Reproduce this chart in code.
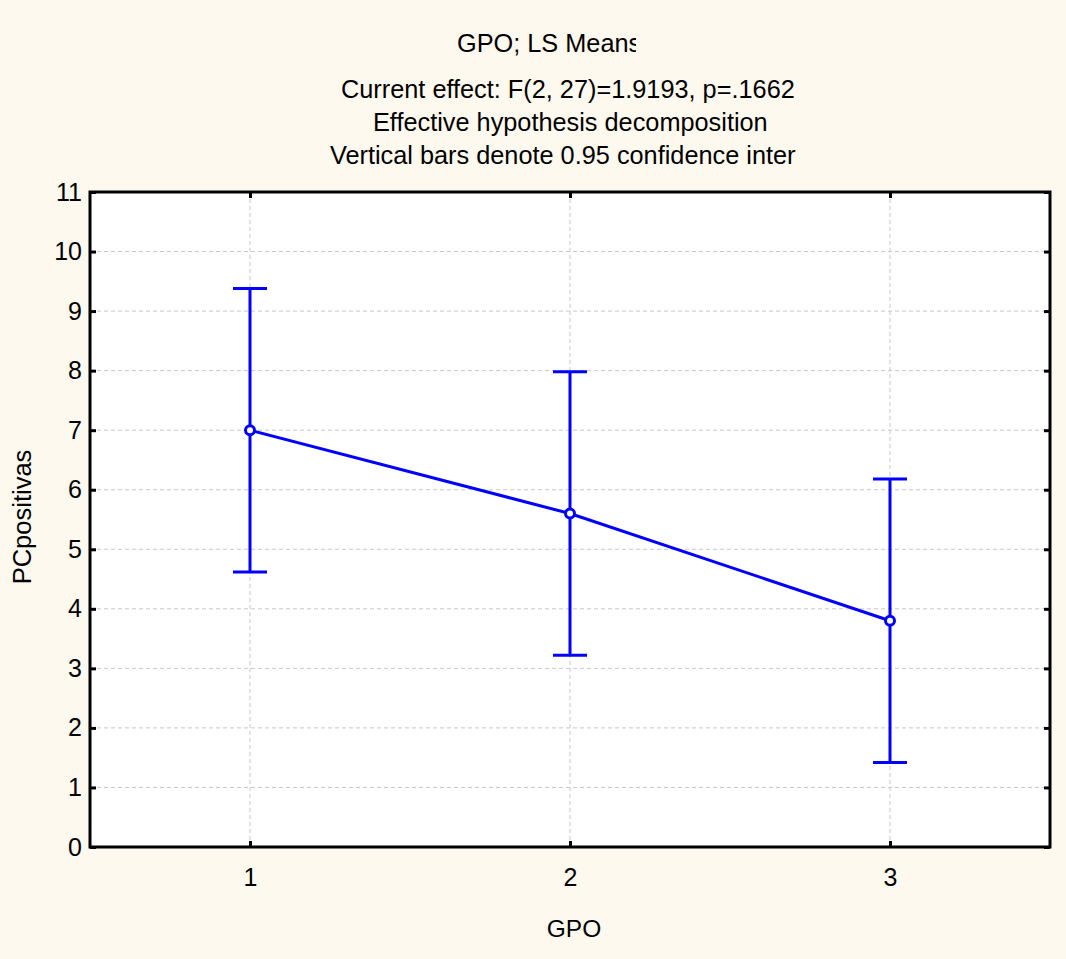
<!DOCTYPE html>
<html>
<head>
<meta charset="utf-8">
<script src="https://cdn.jsdelivr.net/npm/d3@7"></script>
<style>
  body { margin: 0; background: #fef9ee; }
  text { font-family: "Liberation Sans", Arial, sans-serif; fill: #000; }
</style>
</head>
<body>
<div id="chart"></div>
<script>
// data
var groups = [1, 2, 3];
var means = [7.0, 5.6, 3.8];
var ciLow = [4.62, 3.22, 1.42];
var ciHigh = [9.38, 7.98, 6.18];
var yTicks = [0, 1, 2, 3, 4, 5, 6, 7, 8, 9, 10, 11];
var titleLines = [
  "GPO; LS Means",
  "Current effect: F(2, 27)=1.9193, p=.1662",
  "Effective hypothesis decomposition",
  "Vertical bars denote 0.95 confidence intervals"
];

var width = 1066,
  height = 959;
var margin = { top: 192, left: 90, right: 16, bottom: 112 };

var svg = d3
  .select("#chart")
  .append("svg")
  .attr("width", width)
  .attr("height", height);

svg
  .append("rect")
  .attr("width", width)
  .attr("height", height)
  .attr("fill", "#fef9ee");

var x = d3
  .scaleLinear()
  .domain([0.5, 3.5])
  .range([margin.left, width - margin.right]);
var y = d3
  .scaleLinear()
  .domain([0, 11])
  .range([height - margin.bottom, margin.top]);

// titles, clipped like the original text boxes
var defs = svg.append("defs");
var titleX = [457, 341, 373, 330];
var titleY = [52, 98, 131, 164];
var clipRight = [636, 800, 800, 796];
titleLines.forEach(function(t, i) {
  defs
    .append("clipPath")
    .attr("id", "clip" + i)
    .append("rect")
    .attr("x", 0)
    .attr("y", 0)
    .attr("width", clipRight[i])
    .attr("height", height);
});
svg
  .selectAll(".title")
  .data(titleLines)
  .enter()
  .append("text")
  .attr("class", "title")
  .attr("x", function(d, i) {
    return titleX[i];
  })
  .attr("y", function(d, i) {
    return titleY[i];
  })
  .attr("clip-path", function(d, i) {
    return "url(#clip" + i + ")";
  })
  .style("font-size", "25.3px")
  .text(function(d) {
    return d;
  });

// plot area
svg
  .append("rect")
  .attr("x", x.range()[0])
  .attr("y", y.range()[1])
  .attr("width", x.range()[1] - x.range()[0])
  .attr("height", y.range()[0] - y.range()[1])
  .attr("fill", "#fff");

// grid
svg
  .append("g")
  .selectAll("line")
  .data(yTicks.slice(1, -1))
  .enter()
  .append("line")
  .attr("x1", x.range()[0])
  .attr("x2", x.range()[1])
  .attr("y1", function(d) {
    return y(d);
  })
  .attr("y2", function(d) {
    return y(d);
  })
  .attr("stroke", "#c8c8c8")
  .attr("stroke-dasharray", "4,3");

svg
  .append("g")
  .selectAll("line")
  .data(groups)
  .enter()
  .append("line")
  .attr("x1", function(d) {
    return x(d);
  })
  .attr("x2", function(d) {
    return x(d);
  })
  .attr("y1", y.range()[0])
  .attr("y2", y.range()[1])
  .attr("stroke", "#c8c8c8")
  .attr("stroke-dasharray", "4,3");

// axes with inward ticks
var axisStyle = function(g) {
  g.select(".domain").remove();
  g.selectAll(".tick line").attr("stroke", "#000").attr("stroke-width", 3);
  g.selectAll(".tick text")
    .style("font-size", "25px")
    .style("font-family", '"Liberation Sans", Arial, sans-serif');
};

svg
  .append("g")
  .attr("transform", "translate(" + x.range()[0] + ",0)")
  .call(
    d3
      .axisLeft(y)
      .tickValues(yTicks)
      .tickSize(-6)
      .tickPadding(8)
      .tickFormat(d3.format("d"))
  )
  .call(axisStyle);

svg
  .append("g")
  .attr("transform", "translate(" + x.range()[1] + ",0)")
  .call(
    d3
      .axisRight(y)
      .tickValues(yTicks)
      .tickSize(-6)
      .tickFormat("")
  )
  .call(axisStyle);

svg
  .append("g")
  .attr("transform", "translate(0," + y.range()[0] + ")")
  .call(
    d3
      .axisBottom(x)
      .tickValues(groups)
      .tickSize(-6)
      .tickPadding(21)
      .tickFormat(d3.format("d"))
  )
  .call(axisStyle);

svg
  .append("g")
  .attr("transform", "translate(0," + y.range()[1] + ")")
  .call(
    d3
      .axisTop(x)
      .tickValues(groups)
      .tickSize(-6)
      .tickFormat("")
  )
  .call(axisStyle);

// frame
svg
  .append("rect")
  .attr("x", x.range()[0])
  .attr("y", y.range()[1])
  .attr("width", x.range()[1] - x.range()[0])
  .attr("height", y.range()[0] - y.range()[1])
  .attr("fill", "none")
  .attr("stroke", "#000")
  .attr("stroke-width", 3);

// axis titles
svg
  .append("text")
  .attr("x", 574)
  .attr("y", 937)
  .attr("text-anchor", "middle")
  .style("font-size", "24.5px")
  .text("GPO");

svg
  .append("text")
  .attr("transform", "translate(31,517) rotate(-90)")
  .attr("text-anchor", "middle")
  .style("font-size", "25.5px")
  .text("PCpositivas");

// error bars
var blue = "#0000ff";
var bars = svg.append("g");
groups.forEach(function(g, i) {
  bars
    .append("line")
    .attr("x1", x(g))
    .attr("x2", x(g))
    .attr("y1", y(ciLow[i]))
    .attr("y2", y(ciHigh[i]))
    .attr("stroke", blue)
    .attr("stroke-width", 3);
  [ciLow[i], ciHigh[i]].forEach(function(v) {
    bars
      .append("line")
      .attr("x1", x(g) - 17)
      .attr("x2", x(g) + 17)
      .attr("y1", y(v))
      .attr("y2", y(v))
      .attr("stroke", blue)
      .attr("stroke-width", 3);
  });
});

// mean line
var line = d3
  .line()
  .x(function(d, i) {
    return x(groups[i]);
  })
  .y(function(d) {
    return y(d);
  });

svg
  .append("path")
  .datum(means)
  .attr("d", line)
  .attr("fill", "none")
  .attr("stroke", blue)
  .attr("stroke-width", 3);

svg
  .append("g")
  .selectAll("circle")
  .data(means)
  .enter()
  .append("circle")
  .attr("cx", function(d, i) {
    return x(groups[i]);
  })
  .attr("cy", function(d) {
    return y(d);
  })
  .attr("r", 4.5)
  .attr("fill", "#fff")
  .attr("stroke", blue)
  .attr("stroke-width", 3);
</script>
</body>
</html>
